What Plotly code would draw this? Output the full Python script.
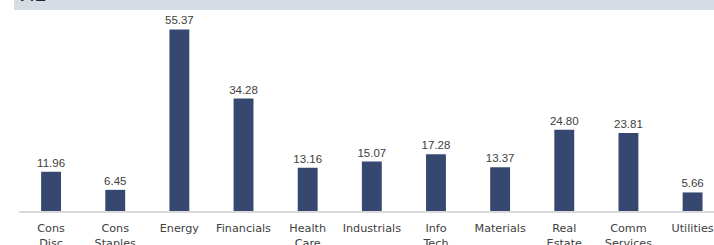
import plotly.graph_objects as go

categories = ["Cons<br>Disc", "Cons<br>Staples", "Energy", "Financials", "Health<br>Care",
              "Industrials", "Info<br>Tech", "Materials", "Real<br>Estate", "Comm<br>Services", "Utilities"]
pe_values = [11.96, 6.45, 55.37, 34.28, 13.16, 15.07, 17.28, 13.37, 24.80, 23.81, 5.66]
value_labels = ["11.96", "6.45", "55.37", "34.28", "13.16", "15.07", "17.28", "13.37", "24.80", "23.81", "5.66"]

W, H = 714, 245
L, R, T, B = 19, 0, 12, 34
plot_h = H - T - B
plot_w = W - L - R

fig = go.Figure(go.Bar(
    x=list(range(len(categories))),
    y=pe_values,
    text=value_labels,
    textposition="outside",
    constraintext="none",
    textfont=dict(family="Liberation Sans, Arial", size=11.5, color="#404040"),
    marker=dict(color="#374870", line=dict(width=0)),
    width=0.31,
    cliponaxis=False,
))

fig.update_layout(
    width=W, height=H,
    margin=dict(l=L, r=R, t=T, b=B, autoexpand=False),
    paper_bgcolor="white", plot_bgcolor="white",
    showlegend=False,
    font=dict(family="Liberation Sans, Arial", size=11, color="#404040"),
    xaxis=dict(
        tickmode="array", tickvals=list(range(len(categories))), ticktext=categories,
        range=[-0.5, 10.334], showgrid=False, zeroline=False,
        showline=True, linecolor="#D9D9D9", linewidth=2,
        ticks="", ticklabelstandoff=6, ticklabeloverflow="allow",
        tickfont=dict(family="DejaVu Sans, Verdana", size=11.2, color="#404040"),
        automargin=False,
    ),
    yaxis=dict(range=[0, plot_h / 3.28], visible=False, automargin=False),
)

fig.add_shape(type="rect", xref="paper", yref="paper",
              x0=(14 - L) / plot_w, x1=1.0,
              y0=1 + (T - 10) / plot_h, y1=1 + (T + 2) / plot_h,
              fillcolor="#D6DCE4", line=dict(width=0), layer="below")

fig.add_annotation(text="<b>P/E</b>", xref="paper", yref="paper",
                   x=(18 - L) / plot_w, y=1 + (T - 6) / plot_h,
                   xanchor="left", yanchor="bottom", showarrow=False,
                   font=dict(family="Liberation Sans, Arial", size=16, color="#222222"))

fig.write_html("out.html", config={"displayModeBar": False},
               post_script="document.body.style.margin='0';document.body.style.overflow='hidden';")
